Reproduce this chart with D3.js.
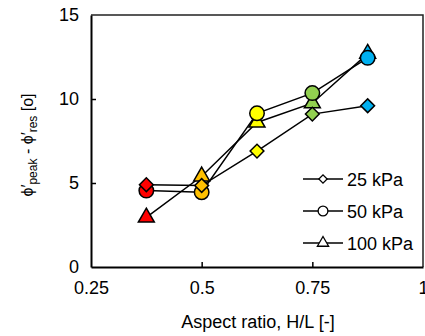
<!DOCTYPE html>
<html>
<head>
<meta charset="utf-8">
<script src="https://cdn.jsdelivr.net/npm/d3@7"></script>
<style>
  body { margin: 0; background: #fff; }
  svg { display: block; font-family: Arial, "Liberation Sans", sans-serif; }
</style>
</head>
<body>
<svg id="chart" width="425" height="336"></svg>
<script>
// aspect ratio H/L for each test
const ratios = [0.375, 0.5, 0.625, 0.75, 0.875];
const pointColors = ["#FF0000", "#FFC000", "#FFFF00", "#92D050", "#00B0F0"];

// peak - residual friction angle, degrees
const kpa25 = [4.9, 4.85, 6.9, 9.1, 9.6];
const kpa50 = [4.55, 4.45, 9.15, 10.35, 12.45];
const kpa100 = [2.95, 5.4, 8.6, 9.75, 12.7];

const xTicks = [0.25, 0.5, 0.75, 1];
const yTicks = [0, 5, 10, 15];

// diamond = square turned 45 degrees
const series = [
    { name: "100 kPa", values: kpa100, shape: d3.symbolTriangle, size: 110, legendSize: 55, rot: 0 },
    { name: "50 kPa", values: kpa50, shape: d3.symbolCircle, size: 165, legendSize: 75, rot: 0 },
    { name: "25 kPa", values: kpa25, shape: d3.symbolSquare, size: 95, legendSize: 34, rot: 45 }
];

const margins = { top: 15, right: 2, bottom: 69, left: 91 };
const width = 425, height = 336;
const svg = d3.select("#chart");

const x = d3.scaleLinear().domain([0.25, 1]).range([margins.left, width - margins.right]);
const y = d3.scaleLinear().domain([0, 15]).range([height - margins.bottom, margins.top]);

// frame (top + right)
svg.append("path")
    .attr("d", `M${x(0.25)},${y(15)}H${x(1)}V${y(0)}`)
    .attr("fill", "none")
    .attr("stroke", "#222")
    .attr("stroke-width", 1.5);

const xAxis = svg.append("g")
    .attr("transform", `translate(0, ${y(0)})`)
    .call(d3.axisBottom(x).tickValues(xTicks).tickFormat(d => d).tickSizeInner(-5).tickSizeOuter(0).tickPadding(14));
const yAxis = svg.append("g")
    .attr("transform", `translate(${x(0.25)}, 0)`)
    .call(d3.axisLeft(y).tickValues(yTicks).tickSizeInner(-5).tickSizeOuter(0).tickPadding(12));

[xAxis, yAxis].forEach(g => {
    g.select(".domain").attr("stroke", "#000").attr("stroke-width", 2);
    g.selectAll(".tick line").attr("stroke", "#000").attr("stroke-width", 1.5);
    g.selectAll(".tick text").attr("font-size", "18px").attr("fill", "#000").attr("font-family", "Arial, 'Liberation Sans', sans-serif");
});
yAxis.selectAll(".tick").filter(d => d === 0 || d === 15).select("line").remove();
xAxis.selectAll(".tick").filter(d => d === 0.25 || d === 1).select("line").remove();

// series: lines then markers
const line = d3.line().x((d, i) => x(ratios[i])).y(d => y(d));
series.forEach(s => {
    svg.append("path")
        .datum(s.values)
        .attr("fill", "none")
        .attr("stroke", "#000")
        .attr("stroke-width", 1.5)
        .attr("d", line);
});
series.forEach(s => {
    svg.append("g").selectAll("path")
        .data(s.values)
        .join("path")
        .attr("transform", (d, i) => `translate(${x(ratios[i])}, ${y(d)}) rotate(${s.rot})`)
        .attr("d", d3.symbol().type(s.shape).size(s.size))
        .attr("fill", (d, i) => pointColors[i])
        .attr("stroke", "#000")
        .attr("stroke-width", 1.5);
});

// legend
const legendOrder = [series[2], series[1], series[0]];
const legend = svg.append("g");
legendOrder.forEach((s, i) => {
    const cy = 179 + i * 32;
    legend.append("line")
        .attr("x1", 303).attr("x2", 343)
        .attr("y1", cy).attr("y2", cy)
        .attr("stroke", "#000").attr("stroke-width", 1.5);
    legend.append("path")
        .attr("transform", `translate(323, ${cy}) rotate(${s.rot})`)
        .attr("d", d3.symbol().type(s.shape).size(s.legendSize))
        .attr("fill", "#fff")
        .attr("stroke", "#000")
        .attr("stroke-width", 1.3);
    legend.append("text")
        .attr("x", 347).attr("y", cy + 6.5)
        .attr("font-size", "18px")
        .text(s.name);
});

// axis titles
svg.append("text")
    .attr("x", 258).attr("y", 328)
    .attr("text-anchor", "middle")
    .attr("font-size", "18px")
    .text("Aspect ratio, H/L [-]");

const yTitle = svg.append("text")
    .attr("transform", `translate(33, 145) rotate(-90)`)
    .attr("text-anchor", "middle")
    .attr("font-size", "16px");
yTitle.append("tspan").text("ϕ′");
yTitle.append("tspan").attr("dy", 4).attr("font-size", "12px").text("peak");
yTitle.append("tspan").attr("dy", -4).text(" - ϕ′");
yTitle.append("tspan").attr("dy", 4).attr("font-size", "12px").text("res");
yTitle.append("tspan").attr("dy", -4).text(" [o]");
</script>
</body>
</html>
